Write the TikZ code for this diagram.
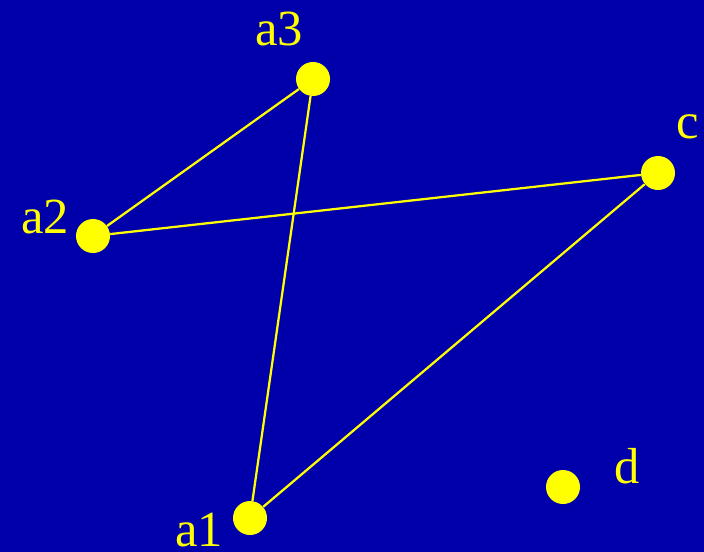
\documentclass[tikz,border=0pt]{standalone}
\usepackage{fontspec}
\setmainfont{Liberation Serif}
\usepackage{tikz}
\definecolor{bgblue}{RGB}{0,0,170}
\definecolor{dotyellow}{RGB}{255,255,0}
\def\px{0.025}
\def\dotSize{0.85}
\begin{document}
\begin{tikzpicture}[
    x=\px cm, y=-\px cm,
    dot/.style={circle, fill=dotyellow, minimum size=\dotSize cm, inner sep=0pt},
    lbl/.style={anchor=base west, inner sep=0pt, text=dotyellow,
        font=\fontsize{36}{40}\selectfont},
    edge/.style={draw=dotyellow, line width=1.6pt}
]
\fill[bgblue] (0,0) rectangle (704,552);
\useasboundingbox (0,0) rectangle (704,552);
% points
\node[dot] (a1) at (250,518) {};
\node[dot] (a2) at (93,236) {};
\node[dot] (a3) at (313,79) {};
\node[dot] (c) at (658,173) {};
\node[dot] (d) at (563,487) {};
% names
\node[lbl] (a1lbl) at (175,546) {a1};
\node[lbl] (a2lbl) at (21,233) {a2};
\node[lbl] (a3lbl) at (255,45) {a3};
\node[lbl] (clbl) at (676,138) {c};
\node[lbl] (dlbl) at (614,483) {d};
% edges
\draw[edge] (a2) -- (a3);
\draw[edge] (a2) -- (c);
\draw[edge] (a3) -- (a1);
\draw[edge] (a1) -- (c);
\end{tikzpicture}
\end{document}
